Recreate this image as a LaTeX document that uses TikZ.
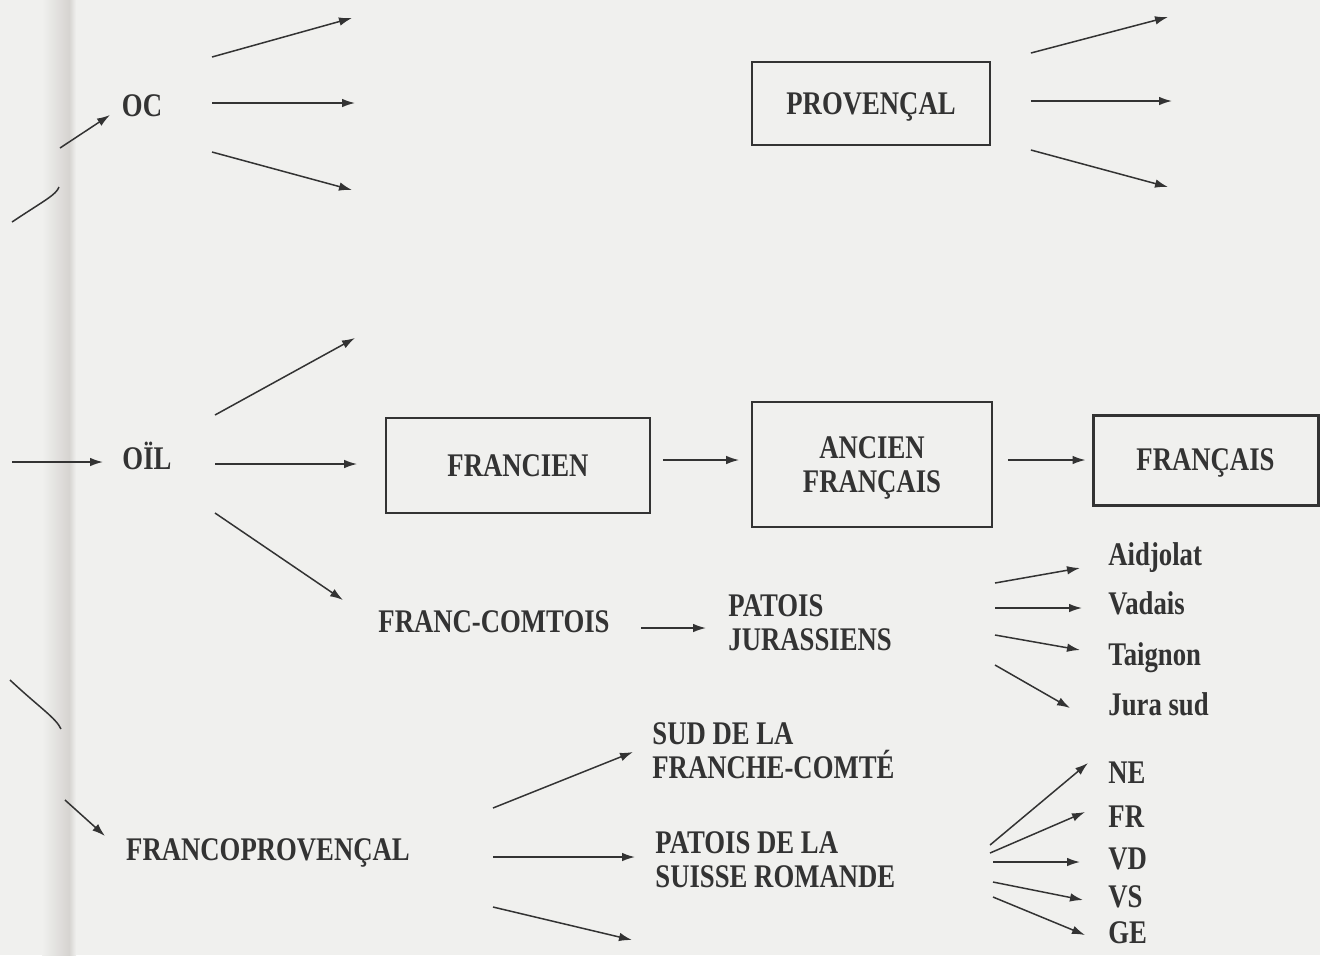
\documentclass[tikz,border=0pt]{standalone}
\usepackage{fontspec}
\setmainfont{Liberation Serif}[FakeStretch=0.81]
\usetikzlibrary{arrows.meta}

\definecolor{pagebg}{HTML}{F0F0EE}
\definecolor{gutter}{HTML}{D6D4D1}
\definecolor{ink}{HTML}{333333}

\tikzstyle{capline}=[text height=10.9pt,
                     text depth=0pt]
\tikzstyle{lbl}=[capline,
                 inner sep=0pt,
                 text=ink,
                 font=\fontsize{16.5}{17}\selectfont\bfseries]
\tikzstyle{twoline}=[inner sep=0pt,
                     anchor=west,
                     align=left,
                     text=ink,
                     font=\fontsize{16.5}{17}\selectfont\bfseries]
\tikzstyle{dialect}=[lbl, anchor=west]
\tikzstyle{langbox}=[draw=ink,
                     line width=0.9pt,
                     inner sep=0pt,
                     align=center,
                     text=ink,
                     font=\fontsize{16.5}{17}\selectfont\bfseries]
\tikzstyle{arr}=[draw=ink, line width=0.75pt, -{Latex[length=6.5pt,width=4.3pt]}]
\tikzstyle{edge}=[draw=ink, line width=0.75pt]

\begin{document}
\begin{tikzpicture}[x=0.5pt,y=-0.5pt]
    \useasboundingbox (0,0) rectangle (1320,955);
    \fill[pagebg] (0,0) rectangle (1320,955);
    \fill[left color=pagebg, right color=gutter] (42,0) rectangle (69,955);
    \fill[left color=gutter, right color=pagebg] (69,0) rectangle (76,955);

    % languages
    \node [lbl] (oc) at (142,106) {OC};
    \node [lbl] (oil) at (147,459) {OÏL};
    \node [lbl] (fpro) at (268,850) {FRANCOPROVENÇAL};
    \node [lbl] (fcomt) at (494,622) {FRANC-COMTOIS};
    \node [langbox, capline, minimum width=119pt, minimum height=41.5pt] (prov) at (871,103.5) {PROVENÇAL};
    \node [langbox, capline, minimum width=132pt, minimum height=47.5pt] (francien) at (518,465.5) {FRANCIEN};
    \node [langbox, text depth=0pt, minimum width=120pt, minimum height=62.5pt] (ancien) at (872,464.5) {ANCIEN\\FRANÇAIS};
    \node [langbox, capline, line width=1.5pt, minimum width=112.5pt, minimum height=45pt] (francais) at (1205.5,460) {FRANÇAIS};

    \node [twoline] (patjur) at (728,623) {PATOIS\\JURASSIENS};
    \node [twoline] (sudfc) at (652,751) {SUD DE LA\\FRANCHE-COMTÉ};
    \node [twoline] (patsr) at (655,860) {PATOIS DE LA\\SUISSE ROMANDE};

    % dialects
    \node [dialect] (aid) at (1108,555) {Aidjolat};
    \node [dialect] (vad) at (1108,604) {Vadais};
    \node [dialect] (tai) at (1108,655) {Taignon};
    \node [dialect] (jura) at (1108,705) {Jura sud};
    \node [dialect] (ne) at (1108,773) {NE};
    \node [dialect] (fr) at (1108,817) {FR};
    \node [dialect] (vd) at (1108,859) {VD};
    \node [dialect] (vs) at (1108,897) {VS};
    \node [dialect] (ge) at (1108,933) {GE};

    % loose ends
    \coordinate (gA) at (60,148);
    \coordinate (gB1) at (12,222);
    \coordinate (gB2) at (59,187);
    \coordinate (gC) at (12,462);
    \coordinate (gD1) at (10,680);
    \coordinate (gD2) at (61,729);
    \coordinate (gE) at (65,800);
    \coordinate (ocA) at (352,18);
    \coordinate (ocB) at (355,103);
    \coordinate (ocC) at (352,190);
    \coordinate (provA) at (1168,17);
    \coordinate (provB) at (1172,101);
    \coordinate (provC) at (1168,187);
    \coordinate (oilA) at (355,338);
    \coordinate (fproC) at (632,940);

    % from the previous page
    \draw [edge] (gB1) .. controls (45,200) and (56,195) .. (gB2);
    \draw [arr] (gA) -- ([shift={(-32,9)}]oc.center);
    \draw [arr] (gC) -- ([shift={(-44,3)}]oil.center);
    \draw [edge] (gD1) .. controls (40,708) and (56,718) .. (gD2);
    \draw [arr] (gE) -- ([shift={(-163,-14)}]fpro.center);

    % oc
    \draw [arr] ([shift={(70,-49)}]oc.center) -- (ocA);
    \draw [arr] ([shift={(70,-3)}]oc.center) -- (ocB);
    \draw [arr] ([shift={(70,46)}]oc.center) -- (ocC);
    \draw [arr] ([shift={(40,-50.5)}]prov.east) -- (provA);
    \draw [arr] ([shift={(40,-2.5)}]prov.east) -- (provB);
    \draw [arr] ([shift={(40,46.5)}]prov.east) -- (provC);

    % oil
    \draw [arr] ([shift={(68,-44)}]oil.center) -- (oilA);
    \draw [arr] ([shift={(68,5)}]oil.center) -- ([shift={(-28,-1.5)}]francien.west);
    \draw [arr] ([shift={(68,54)}]oil.center) -- ([shift={(-151,-22)}]fcomt.center);
    \draw [arr] ([shift={(12,-5.5)}]francien.east) -- ([shift={(-12,-4.5)}]ancien.west);
    \draw [arr] ([shift={(15,-4.5)}]ancien.east) -- ([shift={(-6,0)}]francais.west);
    \draw [arr] ([shift={(147,6)}]fcomt.center) -- ([shift={(-22,5)}]patjur.west);

    % patois jurassiens
    \draw [arr] ([shift={(267,-40)}]patjur.west) -- ([shift={(-28,13)}]aid.west);
    \draw [arr] ([shift={(267,-15)}]patjur.west) -- ([shift={(-26,4)}]vad.west);
    \draw [arr] ([shift={(267,12)}]patjur.west) -- ([shift={(-28,-5)}]tai.west);
    \draw [arr] ([shift={(267,42)}]patjur.west) -- ([shift={(-38,3)}]jura.west);

    % francoprovencal
    \draw [arr] ([shift={(225,-42)}]fpro.center) -- ([shift={(-19,1)}]sudfc.west);
    \draw [arr] ([shift={(225,7)}]fpro.center) -- ([shift={(-20,-3)}]patsr.west);
    \draw [arr] ([shift={(225,57)}]fpro.center) -- (fproC);

    % suisse romande
    \draw [arr] ([shift={(335,-15)}]patsr.west) -- ([shift={(-20,-10)}]ne.west);
    \draw [arr] ([shift={(335,-7)}]patsr.west) -- ([shift={(-23,-5)}]fr.west);
    \draw [arr] ([shift={(338,2)}]patsr.west) -- ([shift={(-28,3)}]vd.west);
    \draw [arr] ([shift={(338,22)}]patsr.west) -- ([shift={(-25,3)}]vs.west);
    \draw [arr] ([shift={(338,37)}]patsr.west) -- ([shift={(-23,2)}]ge.west);
\end{tikzpicture}
\end{document}
